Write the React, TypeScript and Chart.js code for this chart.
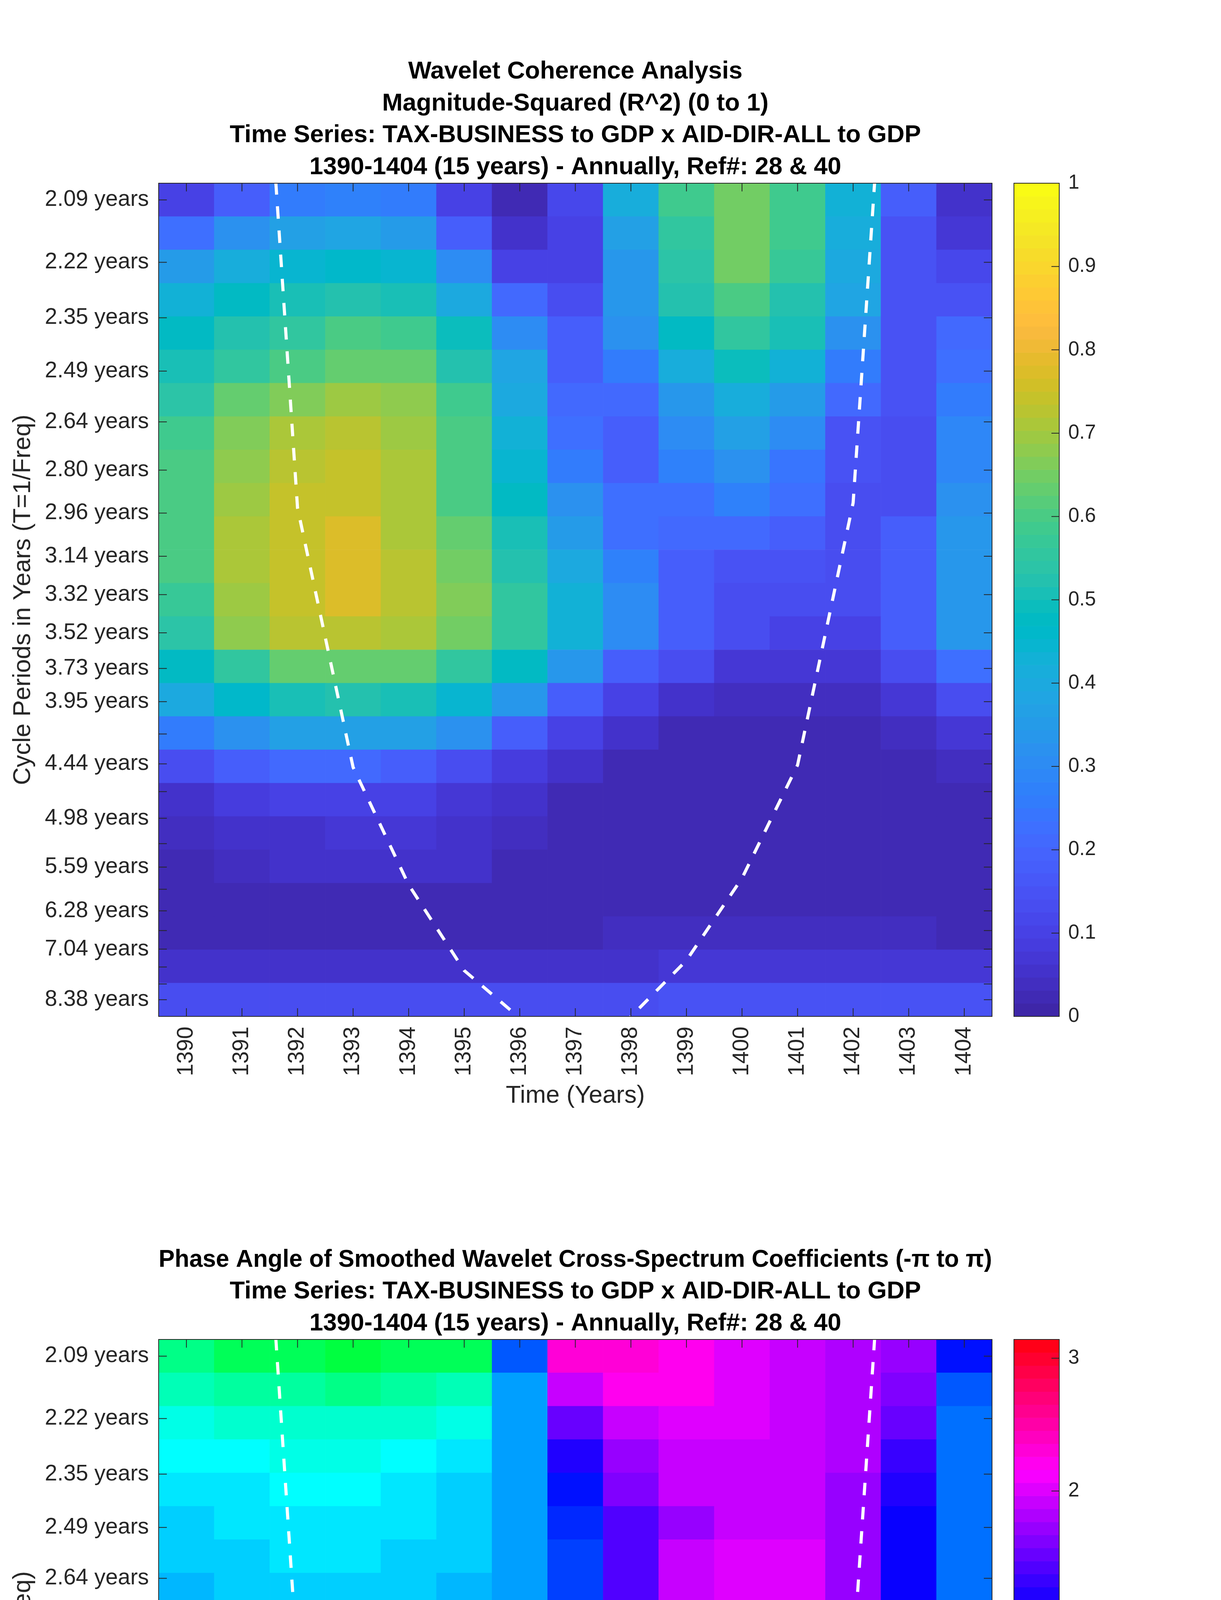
import React, { useEffect, useRef } from 'react';
import { Chart, registerables } from 'chart.js';

Chart.register(...registerables);

// ---------------- data ----------------
const YEARS = [1390, 1391, 1392, 1393, 1394, 1395, 1396, 1397, 1398, 1399, 1400, 1401, 1402, 1403, 1404];

// period of the first (top) and last (bottom) row of the wavelet grid
const ROW_PERIOD_FIRST = 2.09;
const ROW_PERIOD_LAST = 8.38;

const PERIOD_TICKS = [2.09, 2.22, 2.35, 2.49, 2.64, 2.8, 2.96, 3.14, 3.32, 3.52, 3.73, 3.95, 4.19, 4.44, 4.7, 4.98, 5.28, 5.59, 5.92, 6.28, 6.65, 7.04, 7.46, 7.91, 8.38];
const PERIOD_TICK_LABELS = [
  '2.09 years', '2.22 years', '2.35 years', '2.49 years', '2.64 years', '2.80 years', '2.96 years',
  '3.14 years', '3.32 years', '3.52 years', '3.73 years', '3.95 years', '', '4.44 years', '',
  '4.98 years', '', '5.59 years', '', '6.28 years', '', '7.04 years', '', '', '8.38 years',
];

// cone of influence (period in years) per year
const COI_YEARS = [1391, 1392, 1393, 1394, 1395, 1396, 1397, 1398, 1399, 1400, 1401, 1402, 1403];
const COI_PERIODS = [1.4, 2.94, 4.47, 5.85, 7.55, 9.0, 10.5, 8.95, 7.3, 5.75, 4.45, 2.92, 1.4];

const COHERENCE_TICKS = [0, 0.1, 0.2, 0.3, 0.4, 0.5, 0.6, 0.7, 0.8, 0.9, 1];
const COHERENCE_TICK_LABELS = ['0', '0.1', '0.2', '0.3', '0.4', '0.5', '0.6', '0.7', '0.8', '0.9', '1'];
const PHASE_TICKS = [-3, -2, -1, 0, 1, 2, 3];
const PHASE_TICK_LABELS = ['-3', '-2', '-1', '0', '1', '2', '3'];

// magnitude-squared coherence, rows top (2.09 y) -> bottom (8.38 y), columns 1390..1404
const COHERENCE = [
  [0.10, 0.18, 0.26, 0.27, 0.26, 0.10, 0.02, 0.11, 0.41, 0.58, 0.65, 0.58, 0.43, 0.17, 0.04],
  [0.23, 0.31, 0.37, 0.38, 0.35, 0.18, 0.04, 0.09, 0.36, 0.56, 0.65, 0.58, 0.42, 0.14, 0.07],
  [0.35, 0.41, 0.45, 0.46, 0.44, 0.30, 0.09, 0.09, 0.34, 0.54, 0.65, 0.57, 0.40, 0.14, 0.11],
  [0.43, 0.48, 0.51, 0.53, 0.51, 0.40, 0.21, 0.12, 0.33, 0.52, 0.61, 0.53, 0.38, 0.14, 0.14],
  [0.47, 0.53, 0.55, 0.60, 0.58, 0.49, 0.30, 0.18, 0.31, 0.47, 0.56, 0.50, 0.31, 0.14, 0.20],
  [0.50, 0.56, 0.61, 0.63, 0.63, 0.53, 0.38, 0.18, 0.25, 0.41, 0.49, 0.43, 0.25, 0.14, 0.22],
  [0.54, 0.63, 0.67, 0.70, 0.69, 0.58, 0.40, 0.21, 0.21, 0.34, 0.41, 0.35, 0.21, 0.14, 0.25],
  [0.58, 0.67, 0.72, 0.73, 0.70, 0.60, 0.43, 0.22, 0.18, 0.30, 0.37, 0.30, 0.14, 0.12, 0.28],
  [0.60, 0.68, 0.73, 0.75, 0.72, 0.61, 0.45, 0.26, 0.18, 0.27, 0.32, 0.24, 0.14, 0.12, 0.28],
  [0.61, 0.70, 0.75, 0.75, 0.72, 0.61, 0.47, 0.32, 0.22, 0.22, 0.27, 0.22, 0.12, 0.12, 0.31],
  [0.61, 0.72, 0.75, 0.77, 0.72, 0.63, 0.50, 0.35, 0.23, 0.20, 0.20, 0.18, 0.12, 0.17, 0.34],
  [0.61, 0.72, 0.75, 0.77, 0.73, 0.65, 0.53, 0.40, 0.27, 0.18, 0.14, 0.14, 0.12, 0.17, 0.34],
  [0.57, 0.70, 0.75, 0.77, 0.73, 0.66, 0.55, 0.43, 0.30, 0.18, 0.12, 0.12, 0.12, 0.17, 0.34],
  [0.54, 0.68, 0.73, 0.73, 0.72, 0.65, 0.56, 0.43, 0.30, 0.18, 0.13, 0.09, 0.09, 0.17, 0.33],
  [0.48, 0.56, 0.63, 0.64, 0.63, 0.56, 0.47, 0.34, 0.18, 0.12, 0.07, 0.07, 0.07, 0.12, 0.22],
  [0.40, 0.46, 0.50, 0.52, 0.50, 0.45, 0.34, 0.18, 0.09, 0.05, 0.03, 0.03, 0.03, 0.07, 0.12],
  [0.25, 0.32, 0.37, 0.37, 0.37, 0.31, 0.18, 0.09, 0.05, 0.02, 0.02, 0.01, 0.02, 0.03, 0.07],
  [0.12, 0.18, 0.21, 0.21, 0.18, 0.12, 0.08, 0.04, 0.02, 0.01, 0.01, 0.01, 0.01, 0.01, 0.03],
  [0.05, 0.08, 0.09, 0.09, 0.09, 0.07, 0.04, 0.02, 0.01, 0.01, 0.01, 0.01, 0.01, 0.01, 0.01],
  [0.03, 0.05, 0.05, 0.07, 0.06, 0.05, 0.03, 0.02, 0.01, 0.01, 0.01, 0.01, 0.01, 0.01, 0.01],
  [0.02, 0.03, 0.04, 0.04, 0.04, 0.04, 0.02, 0.01, 0.01, 0.01, 0.01, 0.01, 0.01, 0.01, 0.01],
  [0.01, 0.01, 0.01, 0.01, 0.01, 0.01, 0.01, 0.01, 0.01, 0.01, 0.01, 0.01, 0.01, 0.01, 0.01],
  [0.01, 0.01, 0.01, 0.01, 0.01, 0.01, 0.01, 0.01, 0.03, 0.03, 0.03, 0.03, 0.03, 0.03, 0.02],
  [0.05, 0.05, 0.04, 0.04, 0.04, 0.04, 0.04, 0.04, 0.05, 0.07, 0.07, 0.07, 0.07, 0.07, 0.07],
  [0.12, 0.12, 0.12, 0.12, 0.12, 0.12, 0.12, 0.12, 0.12, 0.15, 0.15, 0.15, 0.15, 0.15, 0.15],
];

// phase angle (radians), same grid
const PHASE = [
  [-0.49, -0.71, -0.71, -0.79, -0.71, -0.71, 0.65, 2.22, 2.22, 2.16, 1.97, 1.88, 1.77, 1.71, 0.94],
  [-0.26, -0.38, -0.38, -0.49, -0.35, -0.26, 0.39, 1.83, 2.18, 2.13, 1.97, 1.88, 1.77, 1.61, 0.65],
  [-0.12, -0.23, -0.23, -0.23, -0.23, -0.09, 0.39, 1.45, 1.87, 1.97, 1.97, 1.88, 1.77, 1.45, 0.56],
  [0.0, 0.0, -0.12, -0.12, 0.0, 0.09, 0.39, 1.15, 1.64, 1.87, 1.87, 1.87, 1.77, 1.24, 0.56],
  [0.12, 0.12, 0.0, 0.0, 0.12, 0.16, 0.39, 0.98, 1.54, 1.83, 1.87, 1.87, 1.68, 1.19, 0.56],
  [0.19, 0.09, 0.09, 0.09, 0.09, 0.19, 0.39, 0.85, 1.38, 1.71, 1.83, 1.83, 1.68, 1.05, 0.56],
  [0.19, 0.19, 0.09, 0.09, 0.19, 0.19, 0.39, 0.75, 1.38, 1.83, 1.97, 1.97, 1.68, 1.05, 0.56],
  [0.29, 0.19, 0.19, 0.19, 0.19, 0.29, 0.39, 0.75, 1.38, 1.83, 1.97, 1.97, 1.68, 1.05, 0.56],
  [0.29, 0.29, 0.19, 0.19, 0.29, 0.29, 0.49, 0.75, 1.28, 1.83, 1.97, 1.97, 1.68, 0.98, 0.56],
  [0.39, 0.29, 0.29, 0.29, 0.29, 0.39, 0.59, 0.75, 1.24, 1.64, 1.97, 1.83, 1.57, 0.98, 0.59],
  [0.39, 0.39, 0.39, 0.39, 0.39, 0.49, 0.59, 0.75, 1.15, 1.45, 1.75, 1.75, 1.28, 0.82, 0.59],
  [0.39, 0.39, 0.39, 0.39, 0.39, 0.49, 0.59, 0.75, 0.98, 1.2, 1.54, 1.54, 1.2, 0.82, 0.59],
  [0.49, 0.39, 0.39, 0.39, 0.49, 0.49, 0.59, 0.65, 0.85, 1.1, 1.28, 1.28, 1.1, 0.75, 0.49],
  [0.49, 0.49, 0.49, 0.49, 0.49, 0.49, 0.59, 0.65, 0.85, 1.05, 1.24, 1.28, 1.05, 0.75, 0.49],
  [0.49, 0.49, 0.49, 0.49, 0.59, 0.59, 0.59, 0.65, 0.85, 1.05, 1.24, 1.28, 1.05, 0.85, 0.59],
  [0.59, 0.59, 0.59, 0.59, 0.59, 0.59, 0.68, 0.75, 0.85, 1.05, 1.28, 1.31, 1.15, 0.85, 0.59],
  [0.59, 0.59, 0.59, 0.59, 0.68, 0.68, 0.68, 0.75, 0.98, 1.24, 1.5, 1.57, 1.35, 0.92, 0.75],
  [0.68, 0.68, 0.68, 0.68, 0.68, 0.68, 0.79, 0.85, 0.98, 1.38, 1.97, 2.16, 1.57, 1.1, 0.75],
  [0.68, 0.68, 0.68, 0.68, 0.68, 0.68, 0.68, 0.79, 0.85, 1.24, 2.95, -3.04, 2.74, 0.85, 0.68],
  [0.68, 0.68, 0.68, 0.68, 0.68, 0.68, 0.68, 0.68, 0.79, 0.79, -2.65, -2.55, -2.65, 1.1, 0.75],
  [0.79, 0.79, 0.79, 0.79, 0.68, 0.68, 0.68, 0.59, 0.29, -0.85, -1.87, -2.18, -2.25, -2.25, 0.79],
  [1.38, 0.98, 0.85, 0.79, 0.68, 0.59, 0.29, -0.19, -1.05, -1.57, -1.87, -1.97, -2.16, -2.25, -2.36],
  [-2.69, -2.85, -2.95, -2.95, -2.45, -1.9, -1.68, -1.77, -1.77, -1.87, -1.97, -2.02, -2.16, -2.25, -2.36],
  [-2.55, -2.69, -2.69, -2.55, -2.45, -2.36, -2.25, -2.16, -2.16, -2.16, -2.16, -2.16, -2.25, -2.36, -2.45],
  [-2.55, -2.55, -2.55, -2.55, -2.45, -2.45, -2.36, -2.36, -2.25, -2.25, -2.25, -2.25, -2.36, -2.36, -2.45],
];

const TITLE_COHERENCE = [
  'Wavelet Coherence Analysis',
  'Magnitude-Squared (R^2) (0 to 1)',
  'Time Series: TAX-BUSINESS to GDP x AID-DIR-ALL to GDP',
  '1390-1404 (15 years) - Annually, Ref#: 28 & 40',
];
const TITLE_PHASE = [
  'Phase Angle of Smoothed Wavelet Cross-Spectrum Coefficients (-\u03C0 to \u03C0)',
  'Time Series: TAX-BUSINESS to GDP x AID-DIR-ALL to GDP',
  '1390-1404 (15 years) - Annually, Ref#: 28 & 40',
];

// ---------------- styling ----------------
const FONT = "'Liberation Sans', Arial, Helvetica, sans-serif";
const TEXT = '#262626';
const CANVAS_W = 3125;
const CANVAS_H = 3126;
const PLOT_LEFT = 406;
const PLOT_RIGHT = 2539;
const TITLE_LINE_H = 81.4;
const TICK_LEN = 21;
const CB_GAP = 56;
const CB_W = 116;

const PARULA: number[][] = [
  [0.2422, 0.1504, 0.6603], [0.2504, 0.165, 0.7076], [0.2578, 0.1818, 0.7511], [0.2647, 0.1978, 0.7952],
  [0.2706, 0.2147, 0.8364], [0.2751, 0.2342, 0.871], [0.2783, 0.2559, 0.8991], [0.2803, 0.2782, 0.9221],
  [0.2813, 0.3006, 0.9414], [0.281, 0.3228, 0.9579], [0.2795, 0.3447, 0.9717], [0.276, 0.3667, 0.9829],
  [0.2699, 0.3892, 0.9906], [0.2602, 0.4123, 0.9952], [0.244, 0.4358, 0.9988], [0.2206, 0.4603, 0.9973],
  [0.1963, 0.4847, 0.9892], [0.1834, 0.5074, 0.9798], [0.1786, 0.5289, 0.9682], [0.1764, 0.5499, 0.952],
  [0.1687, 0.5703, 0.9359], [0.154, 0.5902, 0.9218], [0.146, 0.6091, 0.9079], [0.138, 0.6276, 0.8973],
  [0.1248, 0.6459, 0.8883], [0.1113, 0.6635, 0.8763], [0.0952, 0.6798, 0.8598], [0.0689, 0.6948, 0.8394],
  [0.0297, 0.7082, 0.8163], [0.0036, 0.7203, 0.7917], [0.0067, 0.7312, 0.766], [0.0433, 0.7411, 0.7394],
  [0.0964, 0.75, 0.712], [0.1408, 0.7584, 0.6842], [0.1717, 0.767, 0.6554], [0.1938, 0.7758, 0.6251],
  [0.2161, 0.7843, 0.5923], [0.247, 0.7918, 0.5567], [0.2906, 0.7973, 0.5188], [0.3406, 0.8008, 0.4789],
  [0.3909, 0.8029, 0.4354], [0.4456, 0.8024, 0.3909], [0.5044, 0.7993, 0.348], [0.5616, 0.7942, 0.3045],
  [0.6174, 0.7876, 0.2612], [0.672, 0.7793, 0.2227], [0.7242, 0.7698, 0.191], [0.7738, 0.7598, 0.1646],
  [0.8203, 0.7498, 0.1535], [0.8634, 0.7406, 0.1596], [0.9035, 0.733, 0.1774], [0.9393, 0.7288, 0.21],
  [0.9728, 0.7298, 0.2394], [0.9956, 0.7434, 0.2371], [0.997, 0.7659, 0.2199], [0.9952, 0.7893, 0.2028],
  [0.9892, 0.8136, 0.1885], [0.9786, 0.8386, 0.1766], [0.9676, 0.8639, 0.1643], [0.961, 0.889, 0.1537],
  [0.9597, 0.9135, 0.1423], [0.9628, 0.9373, 0.1265], [0.9691, 0.9606, 0.1064], [0.9769, 0.9839, 0.0805],
];

const rgbCss = (r: number, g: number, b: number) =>
  `rgb(${Math.round(r * 255)},${Math.round(g * 255)},${Math.round(b * 255)})`;

const PARULA_COLORS = PARULA.map(([r, g, b]) => rgbCss(r, g, b));

function hsvColor(h: number): string {
  const hh = (h * 6) % 6;
  const i = Math.floor(hh);
  const f = hh - i;
  const q = 1 - f;
  const t = f;
  const tbl = [
    [1, t, 0], [q, 1, 0], [0, 1, t], [0, q, 1], [t, 0, 1], [1, 0, q],
  ][i];
  return rgbCss(tbl[0], tbl[1], tbl[2]);
}
const HSV_COLORS = Array.from({ length: 64 }, (_, i) => hsvColor(i / 64));

function colorFor(v: number, isCoh: boolean): string {
  if (isCoh) {
    const idx = Math.max(0, Math.min(63, Math.round(v * 63)));
    return PARULA_COLORS[idx];
  }
  const t = (v + Math.PI) / (2 * Math.PI);
  const idx = Math.max(0, Math.min(63, Math.round(t * 64)));
  return HSV_COLORS[idx];
}

const framePlugin = {
  id: 'matlabFrame',
  afterDatasetsDraw(chart: any, _args: any, opts: any) {
    const { ctx, chartArea: a, scales } = chart;
    const xs = scales.x;
    const ys = scales.y;
    const cb = scales.cb;
    ctx.save();
    // colorbar
    const cmap: string[] = opts.colors;
    const n = cmap.length;
    const x0 = a.right + CB_GAP;
    for (let i = 0; i < n; i++) {
      const v0 = cb.min + ((cb.max - cb.min) * i) / n;
      const v1 = cb.min + ((cb.max - cb.min) * (i + 1)) / n;
      const p0 = cb.getPixelForValue(v0);
      const p1 = cb.getPixelForValue(v1);
      ctx.fillStyle = cmap[i];
      ctx.fillRect(x0, p1, CB_W, p0 - p1 + 0.6);
    }
    ctx.strokeStyle = TEXT;
    ctx.lineWidth = 2;
    ctx.beginPath();
    cb.ticks.forEach((t: any) => {
      const py = cb.getPixelForValue(t.value);
      ctx.moveTo(x0 + CB_W, py);
      ctx.lineTo(x0 + CB_W - 20, py);
    });
    ctx.stroke();
    ctx.strokeRect(x0, cb.top, CB_W, cb.bottom - cb.top);

    // inner ticks on all four sides
    ctx.beginPath();
    xs.ticks.forEach((t: any) => {
      const px = xs.getPixelForValue(t.value);
      ctx.moveTo(px, a.bottom);
      ctx.lineTo(px, a.bottom - TICK_LEN);
      ctx.moveTo(px, a.top);
      ctx.lineTo(px, a.top + TICK_LEN);
    });
    ys.ticks.forEach((t: any) => {
      const py = ys.getPixelForValue(t.value);
      ctx.moveTo(a.left, py);
      ctx.lineTo(a.left + TICK_LEN, py);
      ctx.moveTo(a.right, py);
      ctx.lineTo(a.right - TICK_LEN, py);
    });
    ctx.stroke();
    ctx.strokeRect(a.left, a.top, a.right - a.left, a.bottom - a.top);
    ctx.restore();
  },
};

function buildConfig(kind: 'coh' | 'phase'): any {
  const isCoh = kind === 'coh';
  const values = isCoh ? COHERENCE : PHASE;
  const fFirst = 1 / ROW_PERIOD_FIRST;
  const fLast = 1 / ROW_PERIOD_LAST;
  const step = (fLast - fFirst) / (values.length - 1);
  const half = Math.abs(step) / 2;

  const cells: any[] = [];
  const colors: string[] = [];
  values.forEach((row, r) => {
    const fc = fFirst + r * step;
    row.forEach((v, c) => {
      cells.push({ x: YEARS[c], y: [fc - half, fc + half] });
      colors.push(colorFor(v, isCoh));
    });
  });
  const coi = COI_YEARS.map((yr, i) => ({ x: yr, y: 1 / COI_PERIODS[i] }));

  const plotTop = isCoh ? 469 : 303;
  const plotBottom = isCoh ? 2602 : 2438;
  const titleLines = isCoh ? TITLE_COHERENCE : TITLE_PHASE;
  const xTitleCenter = isCoh ? 2806 : 2641;
  const cbTicks = isCoh ? COHERENCE_TICKS : PHASE_TICKS;
  const cbLabels = isCoh ? COHERENCE_TICK_LABELS : PHASE_TICK_LABELS;

  return {
    type: 'bar',
    data: {
      datasets: [
        {
          type: 'line',
          data: coi,
          borderColor: '#ffffff',
          borderWidth: 8,
          borderDash: [32, 30],
          borderCapStyle: 'butt',
          pointRadius: 0,
          fill: false,
          tension: 0,
          order: 0,
          clip: 0,
        },
        {
          type: 'bar',
          data: cells,
          backgroundColor: colors,
          borderWidth: 0,
          barPercentage: 1,
          categoryPercentage: 1,
          order: 1,
          clip: 0,
        },
      ],
    },
    options: {
      responsive: false,
      animation: false,
      devicePixelRatio: 1,
      events: [],
      layout: { padding: { top: plotTop - titleLines.length * TITLE_LINE_H, left: 0, right: 0, bottom: 0 } },
      plugins: {
        legend: { display: false },
        tooltip: { enabled: false },
        title: {
          display: true,
          text: titleLines,
          color: '#000000',
          fullSize: false,
          padding: 0,
          font: { family: FONT, size: 63, weight: 'bold', lineHeight: TITLE_LINE_H / 63 },
        },
        matlabFrame: { colors: isCoh ? PARULA_COLORS : HSV_COLORS },
      },
      scales: {
        x: {
          type: 'linear',
          position: 'bottom',
          min: YEARS[0] - 0.5,
          max: YEARS[YEARS.length - 1] + 0.5,
          offset: false,
          grid: { display: false, drawTicks: false },
          border: { display: false },
          afterBuildTicks: (s: any) => {
            s.ticks = YEARS.map((v) => ({ value: v }));
          },
          ticks: {
            autoSkip: false,
            maxRotation: 90,
            minRotation: 90,
            padding: 26,
            color: TEXT,
            font: { family: FONT, size: 57 },
            callback: (v: any) => String(v),
          },
          title: {
            display: true,
            text: 'Time (Years)',
            color: TEXT,
            font: { family: FONT, size: 63, lineHeight: 1.2 },
            padding: { top: 0, bottom: CANVAS_H - xTitleCenter - 37.8 },
          },
          afterFit: (s: any) => {
            s.height = CANVAS_H - plotBottom;
          },
        },
        y: {
          type: 'linear',
          position: 'left',
          min: fLast - half,
          max: fFirst + half,
          grid: { display: false, drawTicks: false },
          border: { display: false },
          afterBuildTicks: (s: any) => {
            s.ticks = PERIOD_TICKS.map((p) => ({ value: 1 / p }));
          },
          ticks: {
            autoSkip: false,
            padding: 25,
            color: TEXT,
            font: { family: FONT, size: 57 },
            callback: (_v: any, i: number) => PERIOD_TICK_LABELS[i],
          },
          title: {
            display: true,
            text: 'Cycle Periods in Years (T=1/Freq)',
            color: TEXT,
            font: { family: FONT, size: 63, lineHeight: 1.2 },
            padding: { top: 22, bottom: 0 },
          },
          afterFit: (s: any) => {
            s.width = PLOT_LEFT;
          },
        },
        cb: {
          type: 'linear',
          axis: 'y',
          position: 'right',
          min: isCoh ? 0 : -Math.PI,
          max: isCoh ? 1 : Math.PI,
          grid: { display: false, drawTicks: false },
          border: { display: false },
          afterBuildTicks: (s: any) => {
            s.ticks = cbTicks.map((v) => ({ value: v }));
          },
          ticks: {
            autoSkip: false,
            padding: 195,
            color: TEXT,
            font: { family: FONT, size: 51 },
            callback: (_v: any, i: number) => cbLabels[i],
          },
          afterFit: (s: any) => {
            s.width = CANVAS_W - PLOT_RIGHT;
          },
        },
      },
    },
    plugins: [framePlugin],
  };
}

function WaveletPanel({ kind }: { kind: 'coh' | 'phase' }) {
  const ref = useRef<HTMLCanvasElement | null>(null);
  useEffect(() => {
    if (!ref.current) return;
    const chart = new Chart(ref.current, buildConfig(kind));
    return () => chart.destroy();
  }, [kind]);
  return (
    <canvas
      ref={ref}
      width={CANVAS_W}
      height={CANVAS_H}
      style={{ display: 'block', width: CANVAS_W, height: CANVAS_H }}
    />
  );
}

export default function App() {
  return (
    <div style={{ position: 'absolute', left: 0, top: 0, width: CANVAS_W, height: CANVAS_H * 2, background: '#ffffff' }}>
      <WaveletPanel kind="coh" />
      <WaveletPanel kind="phase" />
    </div>
  );
}
